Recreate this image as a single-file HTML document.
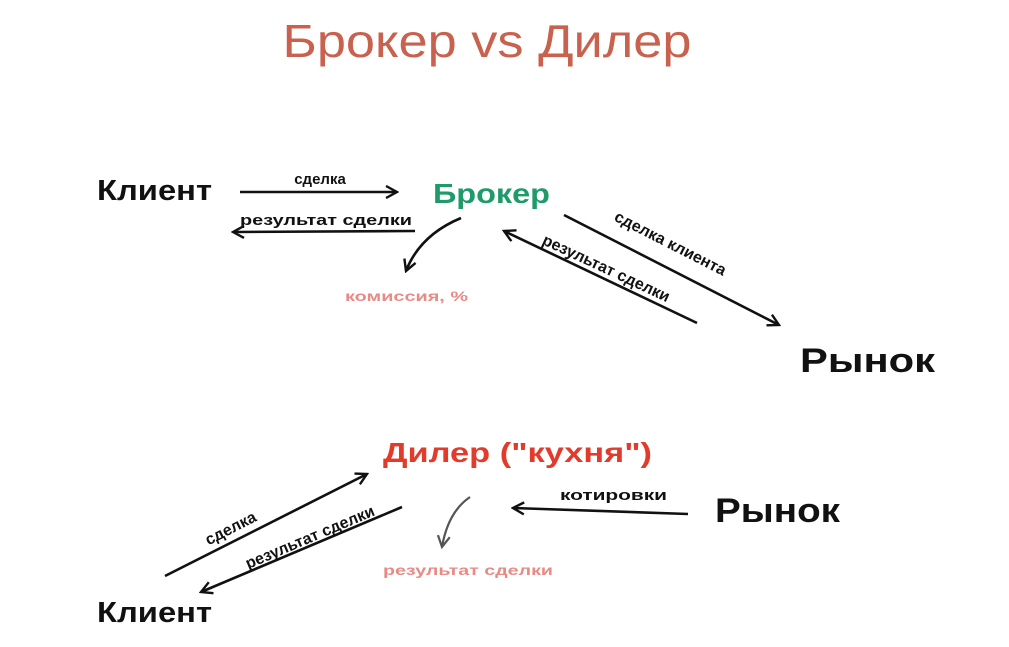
<!DOCTYPE html>
<html><head><meta charset="utf-8"><style>
html,body{margin:0;padding:0;background:#fff;}
svg{display:block;}
text{font-family:"Liberation Sans","DejaVu Sans",sans-serif;}
</style></head><body>
<svg width="1009" height="647" viewBox="0 0 1009 647" xmlns="http://www.w3.org/2000/svg">
<defs>
<marker id="a" markerWidth="14" markerHeight="14" refX="12" refY="7" orient="auto" markerUnits="userSpaceOnUse">
<path d="M1,1 L12,7 L1,13" fill="none" stroke="#111" stroke-width="2.4"/>
</marker>
<marker id="g" markerWidth="14" markerHeight="14" refX="12" refY="7" orient="auto" markerUnits="userSpaceOnUse">
<path d="M1,1 L12,7 L1,13" fill="none" stroke="#555" stroke-width="2.2"/>
</marker>
</defs>
<g stroke="#111" stroke-width="2.6" fill="none">
<line x1="240" y1="192" x2="397" y2="192" marker-end="url(#a)"/>
<line x1="415" y1="231" x2="233" y2="232" marker-end="url(#a)"/>
<path d="M461,218 Q420,235 406,271" marker-end="url(#a)"/>
<line x1="564" y1="215" x2="779" y2="325" marker-end="url(#a)"/>
<line x1="697" y1="323" x2="504" y2="231" marker-end="url(#a)"/>
<line x1="165" y1="576" x2="367" y2="474" marker-end="url(#a)"/>
<line x1="402" y1="507" x2="201" y2="592" marker-end="url(#a)"/>
<line x1="688" y1="514" x2="513" y2="508" marker-end="url(#a)"/>
</g>
<path d="M470,497 Q448,512 442,547" stroke="#555" stroke-width="2.2" fill="none" marker-end="url(#g)"/>

<text x="487" y="57" text-anchor="middle" font-size="46" fill="#c8624e" textLength="409" lengthAdjust="spacingAndGlyphs">Брокер vs Дилер</text>

<g font-weight="bold" fill="#111">
<text x="97" y="200" font-size="29" textLength="115" lengthAdjust="spacingAndGlyphs">Клиент</text>
<text x="800" y="372" font-size="34" textLength="135" lengthAdjust="spacingAndGlyphs">Рынок</text>
<text x="715" y="522" font-size="34" textLength="125" lengthAdjust="spacingAndGlyphs">Рынок</text>
<text x="97" y="622" font-size="29" textLength="115" lengthAdjust="spacingAndGlyphs">Клиент</text>
<text x="320" y="184" font-size="15" text-anchor="middle">сделка</text>
<text x="326" y="225" font-size="15" text-anchor="middle" textLength="172" lengthAdjust="spacingAndGlyphs">результат сделки</text>
<text x="560" y="500" font-size="15" textLength="107" lengthAdjust="spacingAndGlyphs">котировки</text>
<text transform="translate(668,248) rotate(27)" font-size="16" text-anchor="middle">сделка клиента</text>
<text transform="translate(604,273) rotate(25)" font-size="16" text-anchor="middle">результат сделки</text>
<text transform="translate(233,533) rotate(-27)" font-size="16" text-anchor="middle">сделка</text>
<text transform="translate(312,542) rotate(-23)" font-size="16" text-anchor="middle">результат сделки</text>
</g>
<text x="433" y="203" font-size="28" font-weight="bold" fill="#1f9a6a" textLength="117" lengthAdjust="spacingAndGlyphs">Брокер</text>
<text x="383" y="462" font-size="28" font-weight="bold" fill="#e23b2b" textLength="269" lengthAdjust="spacingAndGlyphs">Дилер ("кухня")</text>
<text x="345" y="301" font-size="14" font-weight="bold" fill="#e88a86" textLength="123" lengthAdjust="spacingAndGlyphs">комиссия, %</text>
<text x="383" y="575" font-size="14" font-weight="bold" fill="#e88a86" textLength="170" lengthAdjust="spacingAndGlyphs">результат сделки</text>
</svg>
</body></html>
